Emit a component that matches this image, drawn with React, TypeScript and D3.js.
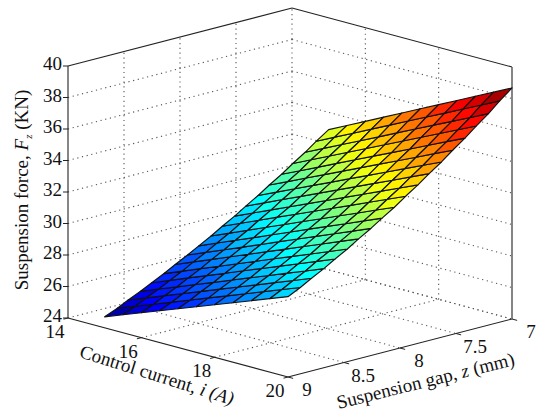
import * as d3 from "d3";

const currentTicks = [14, 16, 18, 20];
const gapTicks = [9, 8.5, 8, 7.5, 7];
const forceTicks = [24, 26, 28, 30, 32, 34, 36, 38, 40];

const currents = [15, 15.5, 16, 16.5, 17, 17.5, 18, 18.5, 19, 19.5, 20];
const gaps = [9, 8.89, 8.79, 8.68, 8.58, 8.47, 8.37, 8.26, 8.16, 8.05, 7.95, 7.84, 7.74, 7.63, 7.53, 7.42, 7.32, 7.21, 7.11, 7];
// one row per gap, one column per current
const force = [
  [24.70, 25.14, 25.58, 26.02, 26.46, 26.90, 27.34, 27.78, 28.22, 28.66, 29.10],
  [25.03, 25.48, 25.92, 26.37, 26.81, 27.26, 27.70, 28.15, 28.59, 29.04, 29.48],
  [25.38, 25.83, 26.28, 26.73, 27.18, 27.63, 28.08, 28.53, 28.98, 29.43, 29.88],
  [25.73, 26.19, 26.64, 27.10, 27.55, 28.01, 28.47, 28.92, 29.38, 29.83, 30.29],
  [26.09, 26.55, 27.02, 27.48, 27.94, 28.41, 28.87, 29.33, 29.79, 30.26, 30.72],
  [26.47, 26.94, 27.41, 27.87, 28.34, 28.81, 29.28, 29.75, 30.21, 30.68, 31.15],
  [26.86, 27.34, 27.81, 28.29, 28.76, 29.24, 29.71, 30.19, 30.66, 31.14, 31.61],
  [27.26, 27.74, 28.22, 28.70, 29.18, 29.67, 30.15, 30.63, 31.11, 31.59, 32.07],
  [27.66, 28.15, 28.64, 29.12, 29.61, 30.10, 30.59, 31.08, 31.56, 32.05, 32.54],
  [28.08, 28.58, 29.07, 29.57, 30.06, 30.56, 31.05, 31.55, 32.04, 32.54, 33.03],
  [28.52, 29.02, 29.52, 30.03, 30.53, 31.03, 31.53, 32.03, 32.54, 33.04, 33.54],
  [28.96, 29.47, 29.98, 30.49, 31.00, 31.51, 32.02, 32.53, 33.04, 33.55, 34.06],
  [29.41, 29.93, 30.45, 30.96, 31.48, 32.00, 32.52, 33.04, 33.55, 34.07, 34.59],
  [29.88, 30.41, 30.93, 31.46, 31.98, 32.51, 33.03, 33.56, 34.08, 34.61, 35.13],
  [30.36, 30.89, 31.43, 31.96, 32.49, 33.03, 33.56, 34.09, 34.62, 35.16, 35.69],
  [30.84, 31.38, 31.92, 32.47, 33.01, 33.55, 34.09, 34.63, 35.18, 35.72, 36.26],
  [31.34, 31.89, 32.44, 32.99, 33.54, 34.09, 34.64, 35.19, 35.74, 36.29, 36.84],
  [31.85, 32.41, 32.97, 33.52, 34.08, 34.64, 35.20, 35.76, 36.31, 36.87, 37.43],
  [32.37, 32.94, 33.50, 34.07, 34.64, 35.21, 35.78, 36.34, 36.91, 37.48, 38.05],
  [32.90, 33.48, 34.05, 34.63, 35.21, 35.79, 36.36, 36.94, 37.52, 38.09, 38.67],
];

const iMin = 14, iMax = 20, gMin = 7, gMax = 9, zMin = 24, zMax = 40;
const originX = 68, originY = 318;

// the box is an orthographic view, so each data axis is just a screen offset
const iToX = d3.scaleLinear().domain([iMin, iMax]).range([0, 220]);
const iToY = d3.scaleLinear().domain([iMin, iMax]).range([0, 59]);
const gToX = d3.scaleLinear().domain([gMax, gMin]).range([0, 224]);
const gToY = d3.scaleLinear().domain([gMax, gMin]).range([0, -58]);
const zToY = d3.scaleLinear().domain([zMin, zMax]).range([0, -252]);

const project = (i: number, g: number, z: number): [number, number] => [
  originX + iToX(i) + gToX(g),
  originY + iToY(i) + gToY(g) + zToY(z),
];

const line = d3.line();
const seg = (a: [number, number, number], b: [number, number, number]) =>
  line([project(...a), project(...b)]) as string;

// jet, 64 steps, blue reached a little early like the reference
const jetLevel = d3.scaleQuantize<number>().domain([0, 1]).range(d3.range(64));
const jetRamp = d3
  .scaleLinear<string>()
  .domain([0, 0.09, 0.365, 0.62, 0.875, 1])
  .range(["#000090", "#0000ff", "#00ffff", "#ffff00", "#ff0000", "#800000"]);
const forceExtent = d3.extent(force.flat()) as [number, number];
const toUnit = d3.scaleLinear().domain(forceExtent).range([0, 1]);
const jet = (z: number) => jetRamp((jetLevel(toUnit(z)) + 0.5) / 64);

const cells = gaps.slice(0, -1).flatMap((g, r) =>
  currents.slice(0, -1).map((i, c) => {
    const i2 = currents[c + 1];
    const g2 = gaps[r + 1];
    const pts = [
      project(i, g, force[r][c]),
      project(i2, g, force[r][c + 1]),
      project(i2, g2, force[r + 1][c + 1]),
      project(i, g2, force[r + 1][c]),
    ];
    const mean = (force[r][c] + force[r][c + 1] + force[r + 1][c + 1] + force[r + 1][c]) / 4;
    return { key: `${r}-${c}`, d: pts.map((p) => p.join(",")).join(" "), fill: jet(mean) };
  })
);

const FONT = "'Liberation Serif', 'Times New Roman', serif";
const DOTS = { stroke: "#555", strokeWidth: 1.1, strokeDasharray: "1.2 3.6", fill: "none" };

export default function App() {
  return (
    <svg
      width={540}
      height={415}
      viewBox="0 0 540 415"
      style={{ position: "absolute", left: 0, top: 0, background: "#fff" }}
      fontFamily={FONT}
      fill="#111"
    >
      {/* walls and floor grid */}
      {forceTicks.slice(1, -1).concat(24).map((z) => (
        <g key={z}>
          <path d={seg([iMin, gMax, z], [iMin, gMin, z])} {...DOTS} />
          <path d={seg([iMin, gMin, z], [iMax, gMin, z])} {...DOTS} />
        </g>
      ))}
      {gapTicks.slice(1).map((g) => (
        <g key={g}>
          <path d={seg([iMin, g, zMin], [iMin, g, zMax])} {...DOTS} />
          <path d={seg([iMin, g, zMin], [iMax, g, zMin])} {...DOTS} />
        </g>
      ))}
      {currentTicks.slice(1, -1).map((i) => (
        <g key={i}>
          <path d={seg([i, gMin, zMin], [i, gMin, zMax])} {...DOTS} />
          <path d={seg([i, gMax, zMin], [i, gMin, zMin])} {...DOTS} />
        </g>
      ))}

      {/* box edges */}
      <g fill="none" stroke="#222" strokeWidth={1.1}>
        <path d={seg([iMin, gMax, zMax], [iMin, gMin, zMax])} />
        <path d={seg([iMin, gMin, zMax], [iMax, gMin, zMax])} />
        <path d={seg([iMin, gMax, zMin], [iMin, gMax, zMax])} />
        <path d={seg([iMin, gMax, zMin], [iMax, gMax, zMin])} />
        <path d={seg([iMax, gMax, zMin], [iMax, gMin, zMin])} />
      </g>
      <path d={seg([iMax, gMin, zMin], [iMax, gMin, zMax])} fill="none" stroke="#666" strokeWidth={1.6} />

      {/* surface */}
      <g stroke="#111" strokeWidth={1.15} strokeLinejoin="round">
        {cells.map((c) => (
          <polygon key={c.key} points={c.d} fill={c.fill} />
        ))}
      </g>

      {/* ticks */}
      <g stroke="#222" strokeWidth={1} fill="none">
        {forceTicks.map((z) => {
          const [x, y] = project(iMin, gMax, z);
          return <path key={z} d={line([[x - 5, y], [x, y]]) as string} />;
        })}
        {currentTicks.map((i) => (
          <path key={i} d={seg([i, gMax, zMin], [i, gMax + 0.04, zMin])} />
        ))}
        {gapTicks.map((g) => (
          <path key={g} d={seg([iMax, g, zMin], [iMax + 0.14, g, zMin])} />
        ))}
      </g>

      {/* tick labels */}
      <g fontSize={19}>
        {forceTicks.map((z) => {
          const [x, y] = project(iMin, gMax, z);
          return (
            <text key={z} x={x - 6} y={y + 4} textAnchor="end">
              {z}
            </text>
          );
        })}
        {currentTicks.map((i) => {
          const [x, y] = project(i, gMax, zMin);
          return (
            <text key={i} x={x - 13} y={y + 20} textAnchor="middle">
              {i}
            </text>
          );
        })}
        {gapTicks.map((g) => {
          const [x, y] = project(iMax, g, zMin);
          return (
            <text key={g} x={x + 19} y={y + 19} textAnchor="middle">
              {g}
            </text>
          );
        })}
      </g>

      {/* axis titles */}
      <g fontSize={19}>
        <text transform="translate(28,190) rotate(-90)" textAnchor="middle">
          Suspension force, <tspan fontStyle="italic">F</tspan>
          <tspan fontStyle="italic" fontSize={11} dy={4}>z</tspan>
          <tspan dy={-4}> (KN)</tspan>
        </text>
        <text transform="translate(155,381) rotate(17.5)" textAnchor="middle">
          Control current, <tspan fontStyle="italic">i (A)</tspan>
        </text>
        <text transform="translate(427,387) rotate(-14)" textAnchor="middle">
          Suspension gap, <tspan fontStyle="italic">z</tspan> (mm)
        </text>
      </g>
    </svg>
  );
}
